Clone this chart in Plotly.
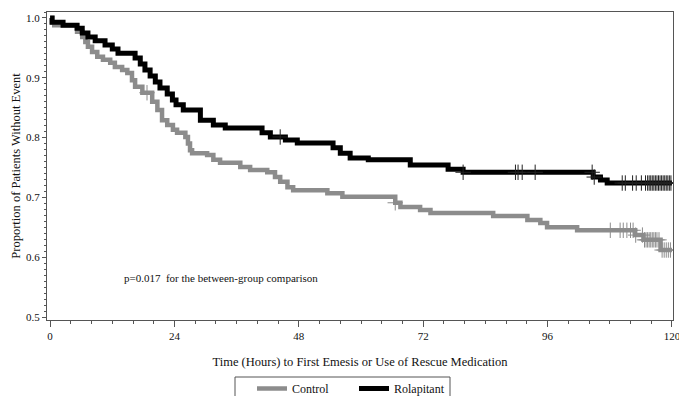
import numpy as np
import plotly.graph_objects as go

# Kaplan-Meier step data (time in hours, proportion without event)
control_time = [0, 0.3, 0.8, 5.2, 6.2, 6.8, 7.3, 8.1, 9.1, 10.2, 11.6, 12.5, 13.9, 14.9, 15.8, 16.4, 17.8,
                19.7, 20.7, 21.6, 22.6, 23.7, 24.5, 26.1, 26.6, 27.0, 27.4, 30.3, 31.5, 32.8, 36.7, 38.6,
                41.9, 43.4, 44.4, 45.8, 46.9, 53.5, 56.4, 66.6, 67.6, 71.4, 73.4, 85.5, 92.1, 94.6, 95.9,
                101.7, 112.9, 114.5, 117.8, 120.0]
control_surv = [1.0, 0.993, 0.988, 0.977, 0.968, 0.960, 0.952, 0.943, 0.935, 0.930, 0.925, 0.918, 0.913, 0.908,
                0.896, 0.885, 0.875, 0.860, 0.846, 0.829, 0.821, 0.813, 0.808, 0.801, 0.790, 0.779, 0.774,
                0.771, 0.763, 0.758, 0.751, 0.746, 0.742, 0.734, 0.726, 0.717, 0.712, 0.707, 0.701, 0.691,
                0.684, 0.679, 0.674, 0.669, 0.662, 0.657, 0.650, 0.645, 0.637, 0.629, 0.612, 0.612]

rola_time = [0, 0.4, 2.5, 5.2, 6.2, 7.3, 8.7, 10.6, 12.0, 13.1, 16.4, 17.4, 18.3, 19.3, 20.3, 21.2, 22.6,
             23.6, 24.3, 25.7, 29.0, 31.5, 33.8, 40.9, 42.5, 45.4, 47.7, 54.6, 56.0, 57.9, 61.4, 69.5,
             76.8, 79.7, 104.8, 106.2, 107.5, 120.0]
rola_surv = [1.0, 0.993, 0.988, 0.983, 0.975, 0.968, 0.962, 0.955, 0.948, 0.941, 0.933, 0.923, 0.913, 0.903,
             0.893, 0.883, 0.873, 0.863, 0.855, 0.846, 0.829, 0.821, 0.816, 0.808, 0.801, 0.796, 0.791,
             0.783, 0.774, 0.766, 0.763, 0.754, 0.747, 0.742, 0.734, 0.729, 0.724, 0.724]

control_censor = [18.7, 66.6, 108.1, 110.0, 110.6, 111.3, 112.0, 112.5, 113.0, 114.3, 114.7, 115.0, 115.3,
                  115.6, 115.9, 116.2, 116.5, 116.8, 117.1, 117.5, 118.1, 118.5, 118.9, 119.3, 119.7]
rola_censor = [44.4, 79.7, 89.8, 90.3, 91.1, 93.6, 104.6, 105.0, 110.4, 111.0, 112.4, 113.1, 114.1, 114.9,
               115.3, 115.6, 115.9, 116.2, 116.5, 116.8, 117.1, 117.4, 117.7, 118.0, 118.3, 118.6, 118.9,
               119.2, 119.5, 119.8]

x_ticks = [0, 24, 48, 72, 96, 120]
y_ticks = [0.5, 0.6, 0.7, 0.8, 0.9, 1.0]
y_ticklabels = ["0.5", "0.6", "0.7", "0.8", "0.9", "1.0"]

GRAY = "#8c8c8c"
BLACK = "#000000"
FONT = "Liberation Serif"

W, H = 679, 396
PL, PR, PT, PB = 47, 673, 12, 320  # plot-area edges in window pixels
PW, PH = PR - PL, PB - PT


def step_value(times, surv, t):
    idx = np.searchsorted(np.array(times), t, side="right") - 1
    return [surv[i] for i in idx]


fig = go.Figure()
fig.add_trace(go.Scatter(x=control_time, y=control_surv, mode="lines", line_shape="hv",
                         line=dict(color=GRAY, width=4.5), name="Control"))
fig.add_trace(go.Scatter(x=control_censor, y=step_value(control_time, control_surv, control_censor),
                         mode="markers", showlegend=False,
                         marker=dict(symbol="cross-thin", size=11, line=dict(color=GRAY, width=1))))
fig.add_trace(go.Scatter(x=rola_time, y=rola_surv, mode="lines", line_shape="hv",
                         line=dict(color=BLACK, width=5), name="Rolapitant"))
fig.add_trace(go.Scatter(x=rola_censor, y=step_value(rola_time, rola_surv, rola_censor),
                         mode="markers", showlegend=False,
                         marker=dict(symbol="cross-thin", size=11, line=dict(color="#222222", width=1))))

fig.add_annotation(x=13.9, y=0.565, xref="x", yref="y", xanchor="left", yanchor="middle",
                   text="p=0.017  for the between-group comparison", showarrow=False,
                   font=dict(family=FONT, size=11, color="#111111"))

# legend frame
fig.add_shape(type="rect", xref="paper", yref="paper",
              x0=(235 - PL) / PW, x1=(450 - PL) / PW, y0=-0.32, y1=(PB - 377) / PH,
              line=dict(color="#555555", width=1), fillcolor="rgba(0,0,0,0)", layer="above")

fig.update_layout(
    width=W, height=H,
    margin=dict(l=PL, r=W - PR, t=PT, b=H - PB, autoexpand=False),
    plot_bgcolor="white", paper_bgcolor="white",
    font=dict(family=FONT, size=11, color="#111111"),
    showlegend=True,
    legend=dict(orientation="h", x=(252 - PL) / PW, y=(PB - 374) / PH, xanchor="left", yanchor="top",
                borderwidth=0, bgcolor="rgba(0,0,0,0)",
                font=dict(family=FONT, size=12, color="#111111"),
                entrywidth=57, itemwidth=30),
    xaxis=dict(range=[-0.6, 120.2], tickmode="array", tickvals=x_ticks, ticks="outside", ticklen=6,
               tickcolor="#555555", showgrid=False, zeroline=False, showline=True, linecolor="#555555",
               linewidth=1, mirror=True, automargin=False, ticklabeloverflow="allow",
               minor=dict(dtick=4, ticks="outside", ticklen=3, tickcolor="#555555", showgrid=False),
               title=dict(text="Time (Hours) to First Emesis or Use of Rescue Medication",
                          font=dict(family=FONT, size=12.5, color="#111111"), standoff=16),
               tickfont=dict(family=FONT, size=11, color="#111111")),
    yaxis=dict(range=[0.495, 1.01], tickmode="array", tickvals=y_ticks, ticktext=y_ticklabels,
               ticks="outside", ticklen=4, tickcolor="#555555", showgrid=False, zeroline=False,
               showline=True, linecolor="#555555", linewidth=1, mirror=True, automargin=False,
               minor=dict(dtick=0.01, ticks="outside", ticklen=2, tickcolor="#555555", showgrid=False),
               title=dict(text="Proportion of Patients Without Event",
                          font=dict(family=FONT, size=12.5, color="#111111"), standoff=2),
               tickfont=dict(family=FONT, size=11, color="#111111")),
)

fig.write_html("out.html", config={"displayModeBar": False},
               post_script="document.body.style.margin='0';document.body.style.overflow='hidden';")
